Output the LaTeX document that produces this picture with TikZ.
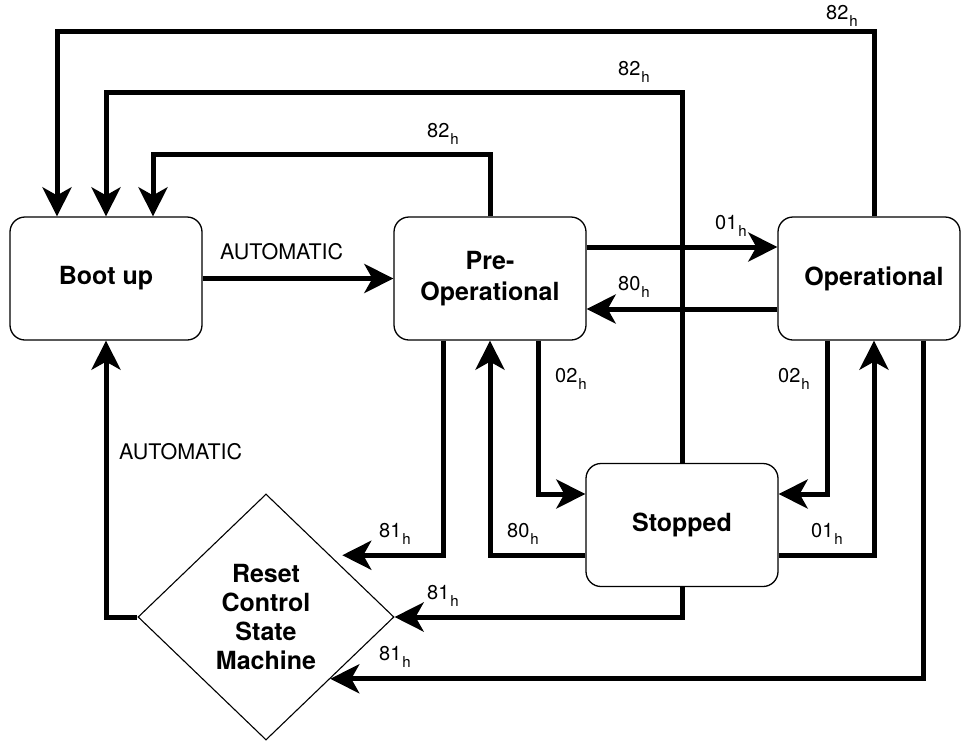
\documentclass[tikz,border=0pt]{standalone}
\usepackage{fontspec}
\setmainfont{TeX Gyre Heros}
\usetikzlibrary{arrows.meta,shapes.geometric,calc}
\newcommand\hsub{\kern1pt\raisebox{-7pt}{\fontsize{15}{15}\selectfont h}}
\begin{document}
\begin{tikzpicture}[x=1pt,y=-1pt,
  statebox/.style={draw, rounded corners=15pt, line width=1.3pt, fill=white,
    minimum width=192pt, minimum height=123pt, inner sep=0pt, align=center,
    font=\fontsize{25}{30.5}\selectfont\bfseries},
  decision/.style={draw, diamond, line width=1.1pt, fill=white,
    minimum width=256pt, minimum height=246pt, inner sep=0pt, align=center,
    font=\fontsize{25}{29}\selectfont\bfseries},
  flow/.style={line width=5pt, -{Stealth[length=29pt,width=29pt,inset=8pt]}},
  lab/.style={anchor=base west, inner sep=0pt, font=\fontsize{20}{20}\selectfont},
  autolab/.style={anchor=base west, inner sep=0pt, font=\fontsize{21.5}{22}\selectfont}]
\useasboundingbox (0,0) rectangle (961,740);

% states
\node[statebox] (boot) at (106,278.5) {Boot up};
\node[statebox] (pre) at (490,278.5) {Pre-\\Operational};
\node[statebox, minimum width=182pt] (op) at (869,278.5) {\hspace*{10pt}Operational};
\node[statebox] (stop) at (682,525) {Stopped};
\node[decision] (reset) at (266,617) {Reset\\Control\\State\\Machine};

\coordinate (r1) at ([xshift=12pt]reset.north east);

% transitions
\draw[flow] (boot) -- (pre);
\draw[flow] (pre.north) -- ++(0,-62) -| ([xshift=47pt]boot.north);
\draw[flow] (stop.north) -- ++(0,-370) -| (boot.north);
\draw[flow] ([xshift=5pt]op.north) -- ++(0,-185) -| ([xshift=-49pt]boot.north);
\draw[flow] ([yshift=31.5pt]pre.east) -- ([yshift=31.5pt]op.west);
\draw[flow] ([yshift=-30.5pt]op.west) -- ([yshift=-30.5pt]pre.east);
\draw[flow] ([xshift=48pt]pre.south) |- ([yshift=31pt]stop.west);
\draw[flow] ([yshift=-30pt]stop.west) -| (pre.south);
\draw[flow] ([xshift=-42pt]op.south) |- ([yshift=31pt]stop.east);
\draw[flow] ([yshift=-30pt]stop.east) -| ([xshift=5pt]op.south);
\draw[flow] ([xshift=-47pt]pre.south) |- (r1);
\draw[flow] (stop.south) |- (reset.east);
\draw[flow] ([xshift=54pt]op.south) |- (reset.south east);
\draw[flow] (reset.west) -| (boot.south);

% transition labels
\node[autolab] (t1) at (220,259) {AUTOMATIC};
\node[autolab] (t2) at (119,459) {AUTOMATIC};
\node[lab] (t3) at (427,137) {82\hsub};
\node[lab] (t4) at (618,75) {82\hsub};
\node[lab] (t5) at (826,19.5) {82\hsub};
\node[lab] (t6) at (715,229) {01\hsub};
\node[lab] (t7) at (618,290) {80\hsub};
\node[lab] (t8) at (555,382) {02\hsub};
\node[lab] (t9) at (778,382) {02\hsub};
\node[lab] (t10) at (507,537) {80\hsub};
\node[lab] (t11) at (811,537) {01\hsub};
\node[lab] (t12) at (379,537) {81\hsub};
\node[lab] (t13) at (427,599) {81\hsub};
\node[lab] (t14) at (379,660) {81\hsub};
\end{tikzpicture}
\end{document}
